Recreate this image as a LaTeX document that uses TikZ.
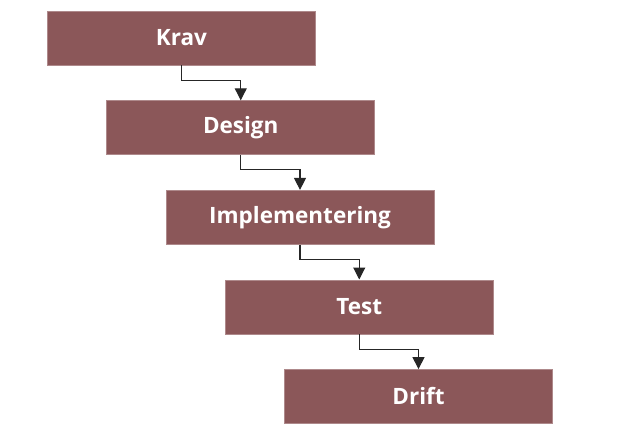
\documentclass[tikz,border=0pt]{standalone}
\usepackage{fontspec}
\setmainfont{Open Sans}
\usetikzlibrary{arrows.meta,positioning}
\definecolor{phasered}{RGB}{139,87,89}
\tikzset{
  phase/.style={fill=phasered,draw=phasered!70!white,line width=0.6pt,minimum width=268pt,minimum height=54pt,
    text=white,font=\fontsize{22.5}{26}\selectfont\bfseries,inner sep=0pt},
  flow/.style={draw=black!85,line width=1.1pt,-{Triangle[width=12pt,length=12pt]}}
}
\begin{document}
\begin{tikzpicture}[x=1pt,y=1pt]
\useasboundingbox (0,0) rectangle (621,-428);
\def\phases{0/{Krav},1/{Design},2/{Implementering},3/{Test},4/{Drift}}
\foreach \i / \element in \phases
  \node [phase] (p\i) at (181.5+\i*59.25,-38-\i*89.6) {\element};

\foreach \i [evaluate=\i as \j using int(\i+1)] in {0,...,3}
  \draw [flow] (p\i.south) -- ++(0,-15) -| (p\j.north);
\end{tikzpicture}
\end{document}
